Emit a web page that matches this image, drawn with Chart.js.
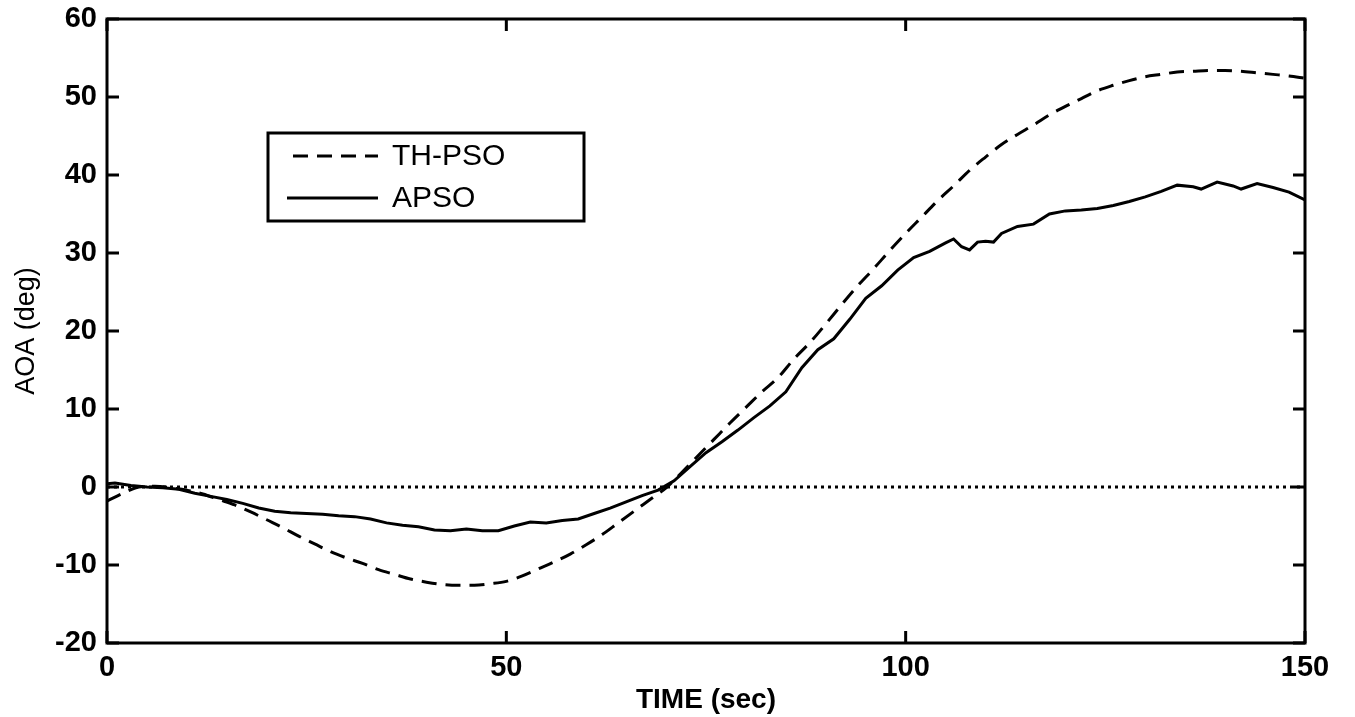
<!DOCTYPE html>
<html>
<head>
<meta charset="utf-8">
<script src="https://cdn.jsdelivr.net/npm/chart.js@4.4.1/dist/chart.umd.min.js"></script>
<style>
  html, body { margin: 0; padding: 0; background: #fff; }
  #wrap { width: 1355px; height: 717px; }
</style>
</head>
<body>
<div id="wrap"><canvas id="canvas1"></canvas></div>
<script>
// values
const timeTH = [0, 2, 4, 6, 8, 10, 12, 14, 16, 18, 20, 22, 24, 26, 28, 30, 32, 34, 36, 38, 40, 42, 44, 46, 48, 50,
  52, 54, 56, 58, 60, 62, 64, 66, 68, 70, 72, 74, 76, 78, 80, 82, 84, 86, 88, 90, 92, 94, 96, 98, 100,
  102, 104, 106, 108, 110, 112, 114, 116, 118, 120, 122, 124, 126, 128, 130, 132, 134, 136, 138, 140, 142, 144, 146, 148, 150];
const aoaTH = [-1.8, -0.8, 0, 0.1, -0.1, -0.4, -0.9, -1.6, -2.3, -3.2, -4.2, -5.2, -6.3, -7.3, -8.3, -9.1, -9.8, -10.6, -11.2, -11.8, -12.2, -12.5, -12.6, -12.6, -12.4, -12.1,
  -11.4, -10.5, -9.6, -8.6, -7.4, -6.1, -4.6, -3.1, -1.6, -0.1, 1.9, 4.0, 6.1, 8.2, 10.2, 12.2, 14.0, 16.4, 18.5, 20.9, 23.4, 25.8, 28.0, 30.3, 32.5,
  34.6, 36.7, 38.6, 40.6, 42.3, 43.9, 45.2, 46.4, 47.7, 48.8, 49.8, 50.8, 51.5, 52.1, 52.6, 52.9, 53.2, 53.3, 53.4, 53.4, 53.3, 53.1, 52.9, 52.7, 52.4];

const timeAP = [0, 1, 3, 5, 7, 9, 11, 13, 15, 17, 19, 21, 23, 25, 27, 29, 31, 33, 35, 37, 39, 41, 43, 45, 47, 49,
  51, 53, 55, 57, 59, 61, 63, 65, 67, 69, 71, 73, 75, 77, 79, 81, 83, 85, 87, 89, 91, 93, 95, 97, 99,
  101, 103, 105, 106, 107, 108, 109, 110, 111, 112, 114, 116, 118, 120, 122, 124, 126, 128, 130, 132, 134, 136, 137, 139, 141, 142, 144, 146, 148, 150];
const aoaAP = [0.4, 0.5, 0.2, 0, -0.1, -0.3, -0.8, -1.2, -1.6, -2.1, -2.7, -3.1, -3.3, -3.4, -3.5, -3.7, -3.8, -4.1, -4.6, -4.9, -5.1, -5.5, -5.6, -5.4, -5.6, -5.6,
  -5.0, -4.5, -4.6, -4.3, -4.1, -3.4, -2.7, -1.9, -1.1, -0.4, 0.8, 2.6, 4.4, 5.8, 7.3, 8.9, 10.4, 12.2, 15.3, 17.6, 19.0, 21.5, 24.2, 25.8, 27.8,
  29.4, 30.2, 31.3, 31.8, 30.8, 30.4, 31.4, 31.5, 31.4, 32.5, 33.4, 33.7, 35.0, 35.4, 35.5, 35.7, 36.1, 36.6, 37.2, 37.9, 38.7, 38.5, 38.2, 39.1, 38.6, 38.2, 38.9, 38.4, 37.8, 36.8];

const refTime = [0, 150];
const refAoa = [0, 0];

const xTicks = [0, 50, 100, 150];
const yTicks = [-20, -10, 0, 10, 20, 30, 40, 50, 60];

function pts(xs, ys) {
  return xs.map((x, i) => ({ x: x, y: ys[i] }));
}

const FONT = "'Liberation Sans', Arial, sans-serif";

// box around the plot + inward ticks on all four sides
const framePlugin = {
  id: "frame",
  afterDatasetsDraw(chart) {
    const ctx = chart.ctx;
    const a = chart.chartArea;
    const xs = chart.scales.x, ys = chart.scales.y;
    ctx.save();
    ctx.strokeStyle = "#000";
    ctx.lineWidth = 3;
    ctx.strokeRect(a.left, a.top, a.right - a.left, a.bottom - a.top);
    const tl = 12;
    ctx.beginPath();
    yTicks.forEach((v) => {
      const py = ys.getPixelForValue(v);
      ctx.moveTo(a.left, py); ctx.lineTo(a.left + tl, py);
      ctx.moveTo(a.right, py); ctx.lineTo(a.right - tl, py);
    });
    xTicks.forEach((v) => {
      const px = xs.getPixelForValue(v);
      ctx.moveTo(px, a.bottom); ctx.lineTo(px, a.bottom - tl);
      ctx.moveTo(px, a.top); ctx.lineTo(px, a.top + tl);
    });
    ctx.stroke();
    ctx.restore();
  },
};

// boxed legend inside the plot, upper left
const legendPlugin = {
  id: "boxLegend",
  afterDraw(chart) {
    const ctx = chart.ctx;
    const a = chart.chartArea;
    const bx = a.left + 161, by = a.top + 114, bw = 316, bh = 88;
    ctx.save();
    ctx.fillStyle = "#fff";
    ctx.fillRect(bx, by, bw, bh);
    ctx.strokeStyle = "#000";
    ctx.lineWidth = 3;
    ctx.strokeRect(bx, by, bw, bh);
    const rows = [chart.data.datasets[0], chart.data.datasets[1]];
    const rowY = [by + 23, by + 65];
    rows.forEach((ds, i) => {
      ctx.beginPath();
      ctx.setLineDash(ds.borderDash || []);
      ctx.lineWidth = 3;
      ctx.moveTo(bx + (ds.borderDash ? 25 : 19), rowY[i]);
      ctx.lineTo(bx + 110, rowY[i]);
      ctx.stroke();
      ctx.setLineDash([]);
      ctx.fillStyle = "#000";
      ctx.font = "30px " + FONT;
      ctx.textBaseline = "middle";
      ctx.fillText(ds.label, bx + 124, rowY[i] + 1);
    });
    ctx.restore();
  },
};

var config = {
  type: "line",
  data: {
    datasets: [
      {
        label: "TH-PSO",
        data: pts(timeTH, aoaTH),
        borderColor: "#000",
        borderWidth: 3,
        borderDash: [15, 9],
        pointRadius: 0,
        tension: 0.4,
        cubicInterpolationMode: "monotone",
      },
      {
        label: "APSO",
        data: pts(timeAP, aoaAP),
        borderColor: "#000",
        borderWidth: 3,
        pointRadius: 0,
        tension: 0,
      },
      {
        label: "zero",
        data: pts(refTime, refAoa),
        borderColor: "#000",
        borderWidth: 3,
        borderDash: [3, 4],
        pointRadius: 0,
      },
    ],
  },
  options: {
    responsive: true,
    maintainAspectRatio: false,
    animation: false,
    layout: { padding: { top: 19, right: 50, left: 0, bottom: 0 } },
    plugins: { legend: { display: false }, tooltip: { enabled: false } },
    scales: {
      x: {
        type: "linear",
        min: 0,
        max: 150,
        afterBuildTicks: (s) => { s.ticks = xTicks.map((v) => ({ value: v })); },
        afterFit: (s) => { s.height = 74; },
        grid: { display: false, drawTicks: false },
        border: { display: false },
        ticks: {
          color: "#000",
          padding: 8,
          maxRotation: 0,
          font: { family: FONT, size: 29, weight: "bold" },
        },
        title: {
          display: true,
          text: "TIME (sec)",
          color: "#000",
          padding: { top: 0, bottom: 0 },
          font: { family: FONT, size: 28, weight: "bold" },
        },
      },
      y: {
        type: "linear",
        min: -20,
        max: 60,
        afterBuildTicks: (s) => { s.ticks = yTicks.map((v) => ({ value: v })); },
        afterFit: (s) => { s.width = 107; s.paddingTop = 0; s.paddingBottom = 0; },
        grid: { display: false, drawTicks: false },
        border: { display: false },
        ticks: {
          color: "#000",
          padding: 10,
          font: { family: FONT, size: 29, weight: "bold" },
        },
        title: {
          display: true,
          text: "AOA (deg)",
          color: "#000",
          padding: { top: 10, bottom: 0 },
          font: { family: FONT, size: 27 },
        },
      },
    },
  },
  plugins: [framePlugin, legendPlugin],
};
var chart = new Chart(document.getElementById("canvas1"), config);
</script>
</body>
</html>
